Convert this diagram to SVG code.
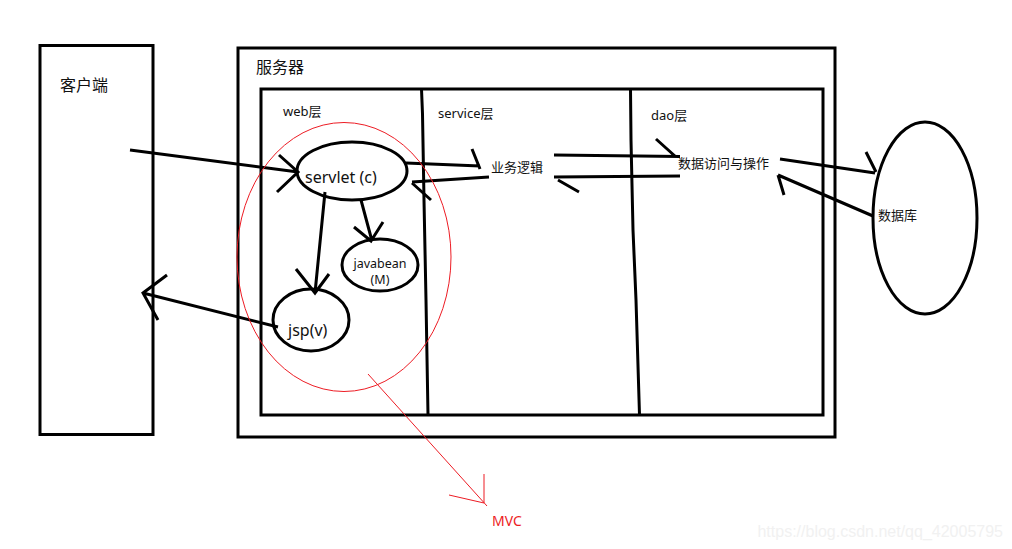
<svg xmlns="http://www.w3.org/2000/svg" width="1012" height="549" viewBox="0 0 1012 549">
<style>
.k{fill:none;stroke:#000;stroke-width:3}
.r{fill:none;stroke:#ed1c24;stroke-width:1}
.t{font-family:"Noto Sans","Noto Sans CJK SC",sans-serif;fill:#111;font-size:13px}
</style>
<rect width="1012" height="549" fill="#fff"/>
<g id="client"><rect class="k" x="40" y="45.500" width="113" height="389"/><text class="t" x="60" y="91" style="font-size:16px">客户端</text></g>
<g id="server"><rect class="k" x="238" y="48" width="597" height="389"/><text class="t" x="256" y="73" style="font-size:16px">服务器</text></g>
<g id="layers">
<rect class="k" x="261" y="89" width="562" height="326"/>
<path class="k" d="M421.500 89L422.500 114L424 200L426 300L428 415"/>
<path class="k" d="M630.500 89L631 140L633 230L636 300L639.500 415"/>
<text class="t" x="283" y="116">web层</text>
<text class="t" x="438" y="118">service层</text>
<text class="t" x="651" y="120">dao层</text>
</g>
<g id="servlet"><ellipse class="k" cx="352" cy="171" rx="55" ry="29"/><text class="t" x="305" y="183" style="font-size:16px">servlet (c)</text></g>
<g id="javabean"><ellipse class="k" cx="380" cy="265" rx="38" ry="26"/><text class="t" x="380" y="268" text-anchor="middle" style="font-size:12.500px">javabean</text><text class="t" x="380" y="284" text-anchor="middle" style="font-size:12.500px">(M)</text></g>
<g id="jsp"><ellipse class="k" cx="311" cy="320" rx="38" ry="31"/><text class="t" x="288" y="336" style="font-size:16px">jsp(v)</text></g>
<g id="logic"><text class="t" x="491" y="172">业务逻辑</text></g>
<g id="dao"><text class="t" x="678" y="168">数据访问与操作</text></g>
<g id="database"><ellipse class="k" cx="925" cy="218" rx="52" ry="96"/><text class="t" x="878" y="220">数据库</text></g>
<g id="connectors">
<path class="k" d="M130 150L298 172M279 155L298 172L277 192"/>
<path class="k" d="M406 163L480 166M472 149L480 169"/>
<path class="k" d="M489 177L412 182M412 183L431 200"/>
<path class="k" d="M554 155L680 156.500M656 139L676 157"/>
<path class="k" d="M680 176L554 177M558 180L579 192"/>
<path class="k" d="M780 159L875 173M866 152L876 172"/>
<path class="k" d="M873 216L778 175M778 175L784 195"/>
<path class="k" d="M361 200L372 241M354 227L371 241L383 222"/>
<path class="k" d="M325 192L315 293M296 269L315 293L329 274"/>
<path class="k" d="M278 327L143 293M167 275L143 293L158 320"/>
</g>
<g id="mvc">
<ellipse class="r" cx="344" cy="257" rx="107" ry="134.500"/>
<path class="r" d="M368 374L487 506M449 495L484 503L484 474"/>
<text class="t" x="492" y="526" style="fill:#ed1c24;font-size:14px">MVC</text>
</g>
<text x="1003" y="537" text-anchor="end" style="font-family:'Liberation Sans',sans-serif;font-size:16px;fill:#f1f1f1">https://blog.csdn.net/qq_42005795</text>
</svg>
